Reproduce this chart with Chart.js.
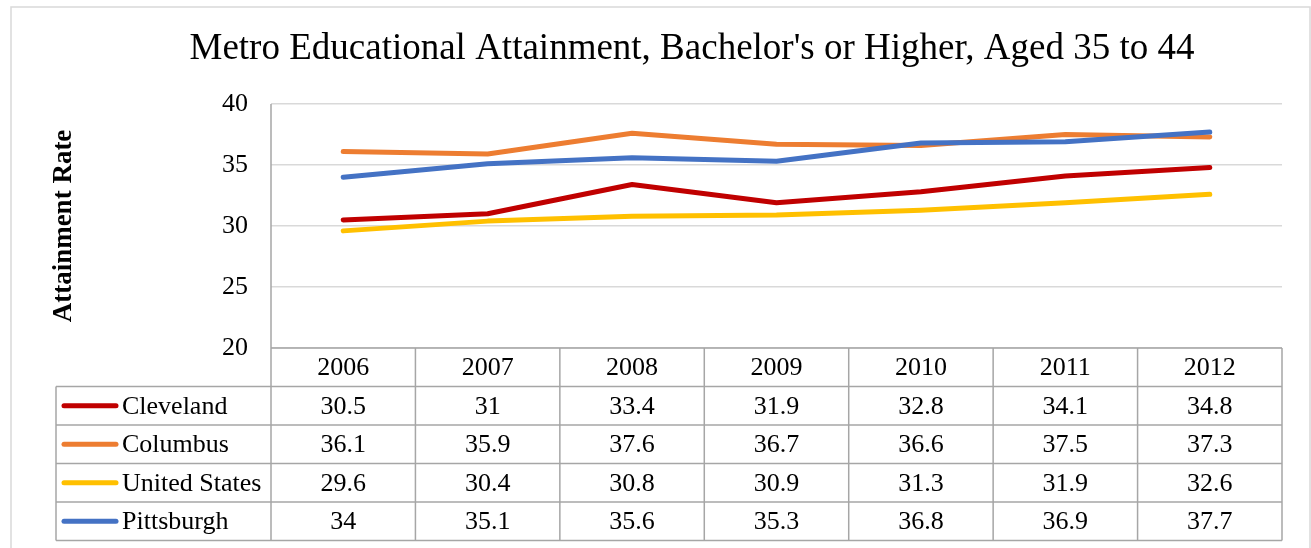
<!DOCTYPE html>
<html>
<head>
<meta charset="utf-8">
<script src="https://cdn.jsdelivr.net/npm/chart.js@4.4.1/dist/chart.umd.min.js"></script>
<style>
  html, body { margin: 0; padding: 0; background: #fff; }
  #wrap { width: 1311px; height: 548px; }
</style>
</head>
<body>
<div id="wrap"><canvas id="grafico" width="1311" height="548"></canvas></div>
<script>
// datos
const years = ['2006', '2007', '2008', '2009', '2010', '2011', '2012'];
const cleveland = [30.5, 31, 33.4, 31.9, 32.8, 34.1, 34.8];
const columbus = [36.1, 35.9, 37.6, 36.7, 36.6, 37.5, 37.3];
const unitedStates = [29.6, 30.4, 30.8, 30.9, 31.3, 31.9, 32.6];
const pittsburgh = [34, 35.1, 35.6, 35.3, 36.8, 36.9, 37.7];
const seriesNames = ['Cleveland', 'Columbus', 'United States', 'Pittsburgh'];
const seriesColors = ['#C00000', '#ED7D31', '#FFC000', '#4472C4'];
const yTicks = [20, 25, 30, 35, 40];

const serif = "'Liberation Serif', 'Times New Roman', serif";
const seriesData = [cleveland, columbus, unitedStates, pittsburgh];

// titulo, marco y tabla de datos
const tablaPlugin = {
  id: 'tabla',
  beforeDraw(chart) {
    const ctx = chart.ctx;
    ctx.save();
    ctx.strokeStyle = '#D9D9D9';
    ctx.lineWidth = 1.5;
    ctx.strokeRect(11, 7, 1299, 600);
    ctx.restore();
  },
  afterDraw(chart) {
    const ctx = chart.ctx;
    const x = chart.scales.x;
    const area = chart.chartArea;
    const colW = x.getPixelForValue(1) - x.getPixelForValue(0);
    const rowH = 38.5;
    const top = area.bottom;
    const legendLeft = 56;
    const bottom = top + rowH * (seriesNames.length + 1);

    ctx.save();
    // titulo
    ctx.fillStyle = '#000';
    ctx.font = '37px ' + serif;
    ctx.textAlign = 'center';
    ctx.textBaseline = 'middle';
    ctx.fillText("Metro Educational Attainment, Bachelor's or Higher, Aged 35 to 44", 692, 49);

    // lineas de la tabla
    ctx.strokeStyle = '#A6A6A6';
    ctx.lineWidth = 1.5;
    ctx.beginPath();
    ctx.moveTo(area.left, top); ctx.lineTo(area.right, top);
    for (let r = 1; r <= seriesNames.length + 1; r++) {
      ctx.moveTo(legendLeft, top + r * rowH); ctx.lineTo(area.right, top + r * rowH);
    }
    ctx.moveTo(legendLeft, top + rowH); ctx.lineTo(legendLeft, bottom);
    for (let c = 0; c <= years.length; c++) {
      const px = area.left + c * colW;
      ctx.moveTo(px, c === 0 ? area.top : top); ctx.lineTo(px, bottom);
    }
    ctx.stroke();

    // textos
    ctx.font = '26px ' + serif;
    ctx.fillStyle = '#000';
    ctx.textAlign = 'center';
    years.forEach((y, i) => {
      ctx.fillText(y, x.getPixelForValue(i), top + rowH / 2 + 1);
    });
    seriesNames.forEach((name, s) => {
      const cy = top + rowH * (s + 1.5) + 1;
      ctx.strokeStyle = seriesColors[s];
      ctx.lineWidth = 5;
      ctx.lineCap = 'round';
      ctx.beginPath();
      ctx.moveTo(64, cy - 1); ctx.lineTo(116, cy - 1);
      ctx.stroke();
      ctx.textAlign = 'left';
      ctx.fillText(name, 122, cy);
      ctx.textAlign = 'center';
      seriesData[s].forEach((v, i) => {
        ctx.fillText(String(v), x.getPixelForValue(i), cy);
      });
    });
    ctx.restore();
  }
};

const ctx = document.getElementById('grafico').getContext('2d');
new Chart(ctx, {
  type: 'line',
  data: {
    labels: years,
    datasets: seriesNames.map((name, s) => ({
      label: name,
      data: seriesData[s],
      borderColor: seriesColors[s],
      backgroundColor: seriesColors[s],
      borderWidth: 5,
      borderCapStyle: 'round',
      borderJoinStyle: 'round',
      pointRadius: 0,
      tension: 0,
      order: seriesNames.length - s
    }))
  },
  options: {
    responsive: false,
    animation: false,
    layout: {
      padding: { left: 0, right: 29, top: 104, bottom: 200 }
    },
    plugins: {
      legend: { display: false },
      title: { display: false },
      tooltip: { enabled: false }
    },
    scales: {
      x: {
        type: 'category',
        display: false,
        offset: true
      },
      y: {
        min: 20,
        max: 40,
        afterBuildTicks(scale) {
          scale.ticks = yTicks.map(v => ({ value: v }));
        },
        afterFit(scale) {
          scale.width = 271;
        },
        grid: {
          color: '#D9D9D9',
          lineWidth: 1.5,
          drawTicks: false
        },
        border: { display: false },
        ticks: {
          padding: 23,
          color: '#000',
          font: { family: serif, size: 26 }
        },
        title: {
          display: true,
          text: 'Attainment Rate',
          color: '#000',
          padding: { top: 48 },
          font: { family: serif, size: 27, weight: 'bold' }
        }
      }
    }
  },
  plugins: [tablaPlugin]
});
</script>
</body>
</html>
